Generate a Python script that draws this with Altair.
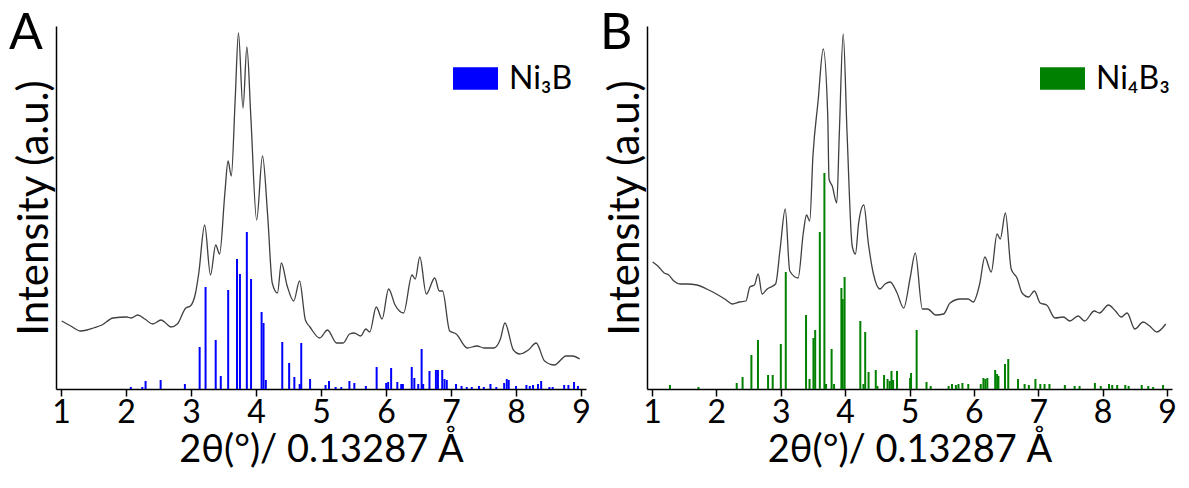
import altair as alt
import pandas as pd

# ---------------- Panel A data ----------------
a_curve_x = [1.01, 1.15, 1.30, 1.40, 1.50, 1.63, 1.80, 2.01, 2.08, 2.18, 2.29, 2.41, 2.54, 2.61, 2.69, 2.79,
             2.92, 2.99, 3.07, 3.12, 3.21, 3.30, 3.38, 3.44, 3.52, 3.57, 3.62, 3.68, 3.73, 3.80, 3.86, 3.92,
             4.01, 4.10, 4.18, 4.25, 4.33, 4.39, 4.48, 4.58, 4.67, 4.76, 4.83, 4.98, 5.10, 5.24, 5.34, 5.44,
             5.51, 5.61, 5.69, 5.75, 5.85, 5.94, 6.04, 6.14, 6.27, 6.40, 6.45, 6.52, 6.62, 6.75, 6.82, 6.87,
             6.98, 7.08, 7.25, 7.40, 7.51, 7.66, 7.76, 7.83, 7.96, 8.06, 8.19, 8.31, 8.44, 8.59, 8.77, 8.87, 8.98]
a_curve_y = [68, 63, 58, 59, 61, 64, 71, 72, 71, 74, 70, 65, 69, 66, 62, 65,
             81, 83, 96, 116, 164, 114, 144, 135, 195, 228, 213, 290, 356, 281, 342, 273,
             169, 233, 173, 106, 96, 126, 103, 88, 108, 69, 62, 51, 59, 46, 46, 55,
             56, 53, 60, 57, 82, 70, 100, 84, 76, 114, 110, 132, 95, 111, 98, 98,
             58, 55, 41, 43, 41, 41, 50, 66, 39, 35, 39, 46, 28, 24, 33, 33, 30]

a_stick_x = [2.074, 2.251, 2.301, 2.533, 2.906, 3.133, 3.224, 3.380, 3.458, 3.572, 3.708, 3.753, 3.859, 3.924,
             4.086, 4.116, 4.151, 4.404, 4.510, 4.590, 4.672, 4.696, 4.832, 5.070, 5.123, 5.225, 5.312, 5.437,
             5.513, 5.690, 5.856, 6.003, 6.033, 6.079, 6.174, 6.234, 6.260, 6.396, 6.436, 6.496, 6.548, 6.572,
             6.669, 6.768, 6.799, 6.865, 6.900, 6.935, 7.077, 7.162, 7.243, 7.319, 7.430, 7.505, 7.607, 7.697,
             7.818, 7.858, 7.888, 8.000, 8.160, 8.212, 8.262, 8.338, 8.387, 8.514, 8.564, 8.741, 8.806, 8.893, 8.953]
a_stick_h = [2, 2, 8, 9, 5, 42, 102, 49, 13, 99, 130, 115, 157, 110,
             77, 66, 9, 47, 26, 12, 5, 46, 10, 4, 8, 2, 2, 8,
             6, 3, 22, 6, 7, 21, 7, 5, 5, 22, 11, 5, 40, 5,
             18, 19, 19, 19, 10, 9, 5, 3, 2, 2, 3, 2, 5, 2,
             6, 10, 9, 3, 4, 3, 4, 5, 8, 2, 2, 4, 4, 7, 3]

# ---------------- Panel B data ----------------
b_curve_x = [1.01, 1.09, 1.19, 1.26, 1.34, 1.44, 1.54, 1.70, 1.85, 2.00, 2.13, 2.25, 2.36, 2.46, 2.52, 2.59,
             2.65, 2.71, 2.79, 2.92, 2.99, 3.07, 3.14, 3.27, 3.35, 3.40, 3.45, 3.50, 3.58, 3.66, 3.73, 3.75,
             3.80, 3.87, 3.91, 3.97, 4.03, 4.11, 4.16, 4.21, 4.29, 4.36, 4.44, 4.54, 4.62, 4.70, 4.80, 4.91,
             5.01, 5.09, 5.20, 5.28, 5.41, 5.53, 5.63, 5.79, 5.91, 5.99, 6.09, 6.17, 6.27, 6.36, 6.41, 6.49,
             6.58, 6.67, 6.75, 6.85, 6.94, 7.03, 7.13, 7.26, 7.39, 7.49, 7.62, 7.72, 7.87, 7.95, 8.09, 8.20,
             8.29, 8.38, 8.50, 8.63, 8.73, 8.84, 8.98]
b_curve_y = [127, 123, 116, 114, 108, 105, 105, 104, 100, 95, 90, 85, 87, 88, 102, 104,
             115, 95, 100, 105, 140, 180, 118, 111, 156, 174, 168, 233, 288, 340, 273, 210,
             203, 186, 256, 355, 256, 143, 135, 166, 184, 146, 115, 100, 105, 107, 97, 81,
             111, 136, 80, 80, 74, 75, 86, 90, 90, 87, 105, 132, 117, 155, 150, 176,
             120, 111, 96, 92, 98, 86, 84, 71, 72, 68, 73, 68, 78, 76, 84, 78,
             72, 76, 60, 67, 63, 57, 65]

b_stick_x = [1.279, 1.721, 2.316, 2.407, 2.544, 2.646, 2.803, 2.875, 3.001, 3.078, 3.393, 3.447, 3.508, 3.535,
             3.607, 3.678, 3.703, 3.790, 3.828, 3.942, 3.962, 3.992, 4.236, 4.285, 4.312, 4.364, 4.476, 4.502,
             4.605, 4.659, 4.693, 4.720, 4.745, 4.806, 5.009, 5.024, 5.111, 5.264, 5.329, 5.608, 5.660, 5.721,
             5.761, 5.822, 5.913, 6.107, 6.148, 6.178, 6.209, 6.331, 6.361, 6.381, 6.483, 6.534, 6.686, 6.788,
             6.854, 6.956, 7.032, 7.098, 7.174, 7.413, 7.565, 7.642, 7.880, 7.971, 8.099, 8.149, 8.226, 8.352,
             8.404, 8.607, 8.709, 8.785, 8.939]
b_stick_h = [4, 2, 6, 12, 34, 49, 14, 14, 45, 117, 74, 10, 51, 59,
             157, 216, 5, 40, 5, 101, 90, 112, 68, 5, 57, 17, 19, 3,
             14, 10, 8, 18, 9, 18, 11, 16, 59, 7, 3, 3, 5, 4,
             5, 6, 5, 5, 11, 10, 11, 19, 15, 13, 25, 30, 10, 5,
             4, 10, 5, 5, 5, 4, 3, 3, 6, 3, 5, 4, 4, 4,
             3, 4, 3, 2, 4]

x_ticks = [1, 1.5, 2, 2.5, 3, 3.5, 4, 4.5, 5, 5.5, 6, 6.5, 7, 7.5, 8, 8.5, 9]

FONT = "Lato"
W_A, W_B, H = 530, 525, 363


def panel(cx, cy, sx, sh, phase, color, letter, width, leg_x):
    curve = pd.DataFrame({"x": cx, "y": cy})
    sticks = pd.DataFrame({"x": sx, "y": sh, "phase": [phase] * len(sx)})
    xs = alt.Scale(domain=[1, 9], nice=False, zero=False)
    ys = alt.Scale(domain=[0, H], nice=False)
    xaxis = alt.Axis(values=x_ticks, title="2θ(°)/ 0.13287 Å", format="d",
                     labelExpr="datum.value % 1 === 0 ? datum.label : ''",
                     tickSize={"condition": {"test": "datum.value % 1 === 0", "value": 7}, "value": 4},
                     labelFontSize=32, titleFontSize=38, labelPadding=1, titlePadding=3,
                     grid=False)
    yaxis = alt.Axis(title="Intensity (a.u.)", ticks=False, labels=False, grid=False,
                     titleFontSize=42, titlePadding=0)
    bars = alt.Chart(sticks).mark_bar(size=2).encode(
        x=alt.X("x:Q", scale=xs, axis=xaxis),
        y=alt.Y("y:Q", scale=ys, axis=yaxis),
        y2=alt.datum(0),
        color=alt.Color("phase:N", scale=alt.Scale(domain=[phase], range=[color]),
                        legend=alt.Legend(title=None, orient="none", legendX=leg_x, legendY=30,
                                          padding=0,
                                          symbolType="M-1,-0.5L1,-0.5L1,0.5L-1,0.5Z",
                                          symbolSize=2025, symbolStrokeWidth=0,
                                          labelFont=FONT, labelFontSize=32, labelColor="black",
                                          labelOffset=11, labelLimit=300)),
    )
    line = alt.Chart(curve).mark_line(color="#404040", strokeWidth=1.3, interpolate="monotone").encode(
        x=alt.X("x:Q", scale=xs),
        y=alt.Y("y:Q", scale=ys),
    )
    lab = alt.Chart(pd.DataFrame({"t": [letter]})).mark_text(
        font=FONT, fontSize=50, align="left", baseline="alphabetic", color="black"
    ).encode(text="t:N", x=alt.value(-47), y=alt.value(23))
    return alt.layer(bars, line, lab).properties(width=width, height=H)


pa = panel(a_curve_x, a_curve_y, a_stick_x, a_stick_h, "Ni₃B", "#0000ff", "A", W_A, 397)
pb = panel(b_curve_x, b_curve_y, b_stick_x, b_stick_h, "Ni₄B₃", "#008000", "B", W_B, 393)

chart = alt.hconcat(pa, pb, spacing=61, bounds="flush").resolve_scale(color="independent").configure_view(
    stroke=None
).configure_axis(
    domainColor="black", domainWidth=1.5, tickColor="black", tickWidth=1.5,
    labelFont=FONT, labelColor="black",
    titleFont=FONT, titleFontWeight="normal", titleColor="black",
).properties(padding={"left": 9, "top": 9, "right": 0, "bottom": 0}, background="white")

chart.save("out.html", embed_options={"renderer": "svg", "actions": False})
